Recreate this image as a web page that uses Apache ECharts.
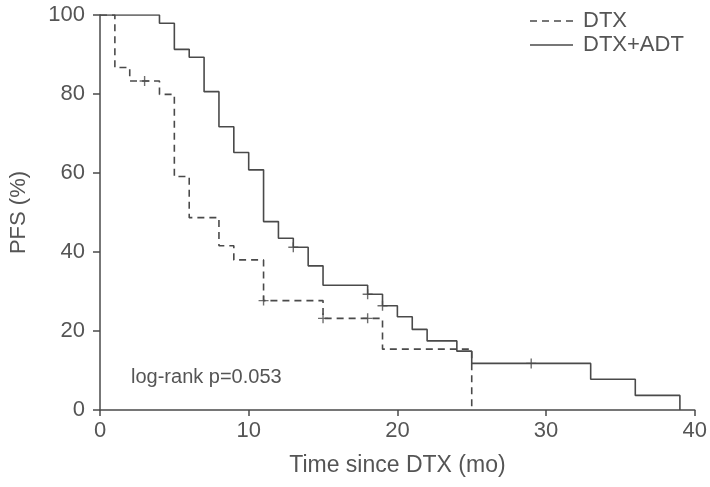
<!DOCTYPE html>
<html>
<head>
<meta charset="utf-8">
<script src="https://cdn.jsdelivr.net/npm/echarts@6/dist/echarts.min.js"></script>
<style>
  html, body { margin: 0; padding: 0; background: #fff; }
  #chart { width: 710px; height: 487px; }
</style>
</head>
<body>
<div id="chart"></div>
<script>
// Kaplan-Meier steps (time in months, PFS %)
const dtxTime = [0, 1, 2, 4, 5, 6, 8, 9, 11, 15, 19, 25];
const dtxPfs = [100, 86.7, 83.3, 79.9, 59.1, 48.7, 41.6, 38.0, 27.7, 23.2, 15.4, 0];
const adtTime = [0, 4, 5, 6, 7, 8, 9, 10, 11, 12, 13, 14, 15, 18, 19, 20, 21, 22, 24, 25, 33, 36, 39];
const adtPfs = [100, 97.9, 91.3, 89.3, 80.6, 71.7, 65.2, 60.8, 47.7, 43.5, 41.2, 36.5, 31.6, 29.3, 26.4, 23.6, 20.4, 17.5, 14.9, 11.8, 7.8, 3.7, 0];

// censored observations
const dtxCensorTime = [3, 11, 15, 18];
const dtxCensorPfs = [83.3, 27.7, 23.2, 23.2];
const adtCensorTime = [13, 18, 19, 29];
const adtCensorPfs = [41.2, 29.3, 26.4, 11.8];

const xTicks = [0, 10, 20, 30, 40];
const yTicks = [0, 20, 40, 60, 80, 100];

const ink = '#4a4a4a';
const textColor = '#555';
const font = 'Liberation Sans, Arial, Helvetica, sans-serif';
const plus = 'path://M4.3,0 H5.7 V4.3 H10 V5.7 H5.7 V10 H4.3 V5.7 H0 V4.3 H4.3 Z';
// legend samples: dashed and solid line
const dashIcon = 'path://M0,0 H7 V1.6 H0 Z M12,0 H19 V1.6 H12 Z M24,0 H31 V1.6 H24 Z M36,0 H43 V1.6 H36 Z';
const solidIcon = 'path://M0,0 H43 V1.6 H0 Z';

const zip = (a, b) => a.map((v, i) => [v, b[i]]);

const chart = echarts.init(document.getElementById('chart'));

const option = {
  animation: false,
  grid: { left: 98, right: 12, top: 15, bottom: 77 },
  legend: {
    data: [
      { name: 'DTX', icon: dashIcon },
      { name: 'DTX+ADT', icon: solidIcon }
    ],
    orient: 'vertical',
    left: 525,
    top: 5,
    itemWidth: 43,
    itemHeight: 2,
    itemGap: 2,
    itemStyle: { color: ink, borderWidth: 0 },
    textStyle: { color: textColor, fontSize: 22, fontFamily: font, padding: [0, 0, 0, 5] }
  },
  xAxis: {
    type: 'value',
    min: xTicks[0],
    max: xTicks[xTicks.length - 1],
    interval: 10,
    name: 'Time since DTX (mo)',
    nameLocation: 'middle',
    nameGap: 44,
    nameTextStyle: { color: textColor, fontSize: 23, fontFamily: font },
    axisLine: { lineStyle: { color: ink, width: 1.5 } },
    axisTick: { length: 6, lineStyle: { color: ink, width: 1.5 } },
    axisLabel: { color: textColor, fontSize: 22, fontFamily: font, margin: 10 },
    splitLine: { show: false }
  },
  yAxis: {
    type: 'value',
    min: yTicks[0],
    max: yTicks[yTicks.length - 1],
    interval: 20,
    name: 'PFS (%)',
    nameLocation: 'middle',
    nameGap: 70,
    nameTextStyle: { color: textColor, fontSize: 22, fontFamily: font },
    axisLine: { show: true, lineStyle: { color: ink, width: 1.5 } },
    axisTick: { show: true, length: 7, lineStyle: { color: ink, width: 1.5 } },
    axisLabel: { color: textColor, fontSize: 22, fontFamily: font, margin: 15 },
    splitLine: { show: false }
  },
  graphic: [
    {
      type: 'text',
      left: 131,
      top: 367,
      style: { text: 'log-rank p=0.053', fill: textColor, fontSize: 20, fontFamily: font }
    }
  ],
  series: [
    {
      name: 'DTX',
      type: 'line',
      step: 'end',
      symbol: 'none',
      data: zip(dtxTime, dtxPfs),
      lineStyle: { color: ink, width: 1.6, type: [7, 5] },
      itemStyle: { color: ink }
    },
    {
      name: 'DTX+ADT',
      type: 'line',
      step: 'end',
      symbol: 'none',
      data: zip(adtTime, adtPfs),
      lineStyle: { color: ink, width: 1.6 },
      itemStyle: { color: ink }
    },
    {
      name: 'DTX censored',
      type: 'scatter',
      symbol: plus,
      symbolSize: 10,
      data: zip(dtxCensorTime, dtxCensorPfs),
      itemStyle: { color: ink }
    },
    {
      name: 'DTX+ADT censored',
      type: 'scatter',
      symbol: plus,
      symbolSize: 10,
      data: zip(adtCensorTime, adtCensorPfs),
      itemStyle: { color: ink }
    }
  ]
};

chart.setOption(option);
</script>
</body>
</html>
